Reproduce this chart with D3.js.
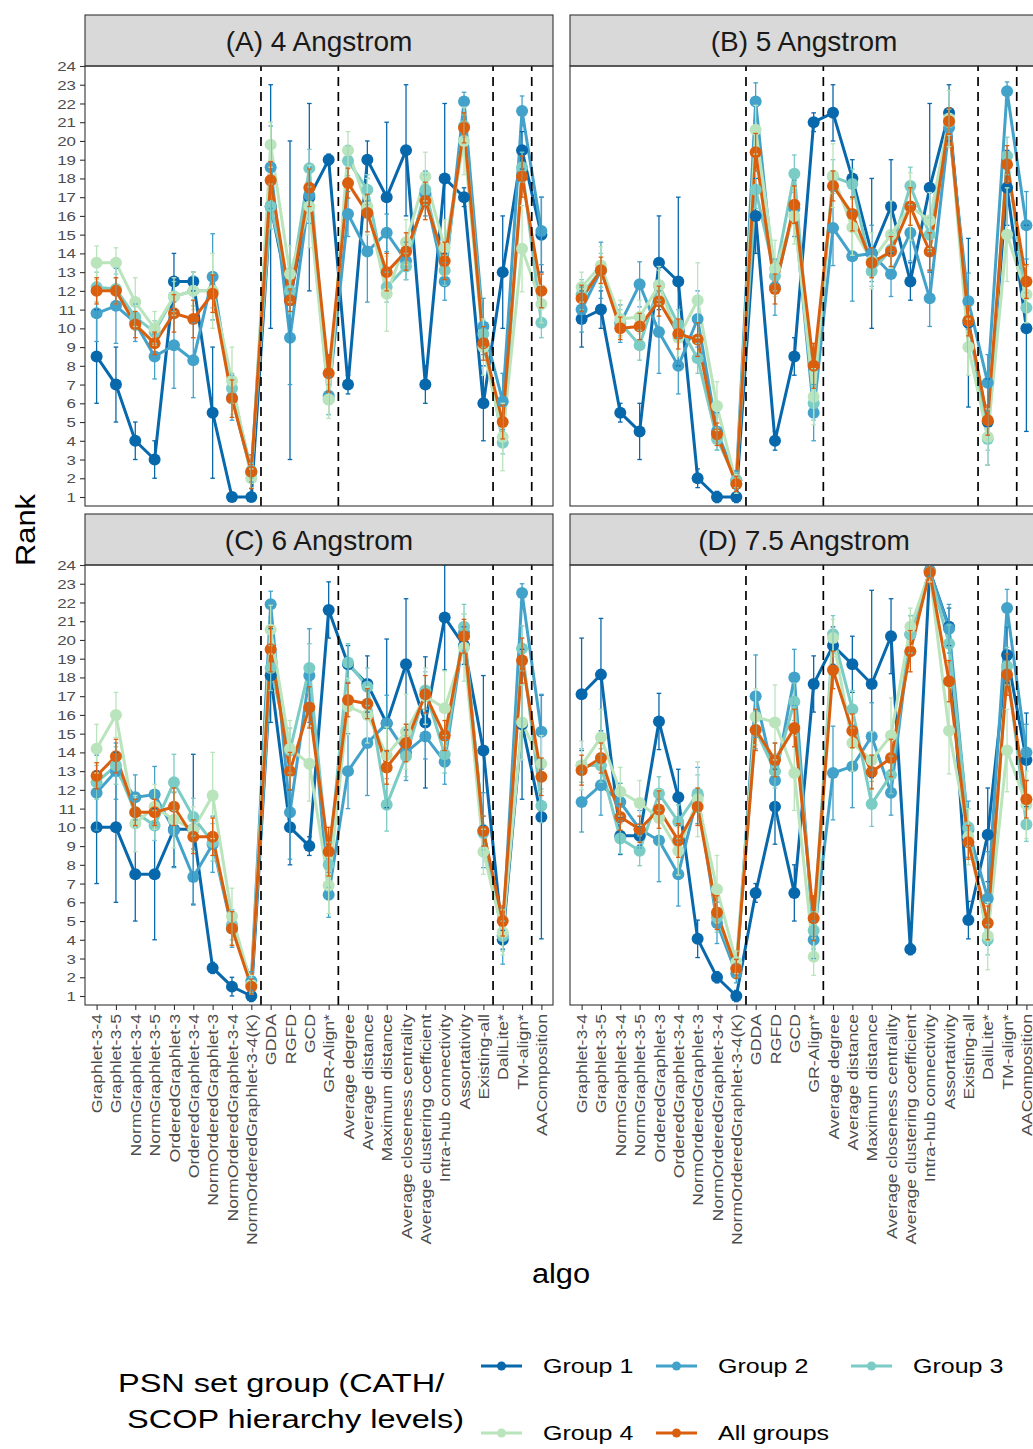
<!DOCTYPE html>
<html>
<head>
<meta charset="utf-8">
<script src="https://cdn.jsdelivr.net/npm/d3@7"></script>
<style>
  body { margin: 0; background: #fff; }
  svg { display: block; font-family: "Liberation Sans", Arial, sans-serif; }
</style>
</head>
<body>
<svg id="chart" width="1033" height="1449"></svg>
<script>
const algos = ["Graphlet-3-4", "Graphlet-3-5", "NormGraphlet-3-4", "NormGraphlet-3-5",
  "OrderedGraphlet-3", "OrderedGraphlet-3-4", "NormOrderedGraphlet-3", "NormOrderedGraphlet-3-4",
  "NormOrderedGraphlet-3-4(K)", "GDDA", "RGFD", "GCD", "GR-Align*", "Average degree",
  "Average distance", "Maximum distance", "Average closeness centrality",
  "Average clustering coefficient", "Intra-hub connectivity", "Assortativity",
  "Existing-all", "DaliLite*", "TM-align*", "AAComposition"];
const groups = ["Group 1", "Group 2", "Group 3", "Group 4", "All groups"];
const groupColors = ["#0868ac", "#43a2ca", "#7bccc4", "#bae4bc", "#d95f0e"];
const panelTitles = ["(A) 4 Angstrom", "(B) 5 Angstrom", "(C) 6 Angstrom", "(D) 7.5 Angstrom"];
const rankTicks = [1, 2, 3, 4, 5, 6, 7, 8, 9, 10, 11, 12, 13, 14, 15, 16, 17, 18, 19, 20, 21, 22, 23, 24];
// dashed separators sit right after these algorithms
const separatorsAfter = ["NormOrderedGraphlet-3-4(K)", "GR-Align*", "Existing-all", "TM-align*"];

// (A) 4 Angstrom
const rankA_g1 = [8.5, 7, 4, 3, 12.5, 12.5, 5.5, 1, 1, 16.5, 11.5, 17, 19, 7, 19, 17, 19.5, 7, 18, 17, 6, 13, 19.5, 15];
const errA_g1  = [2.5, 2, 1, 1, 1.5, 0.5, 3.5, 0, 0, 6.5, 8.5, 5, 0.3, 0.5, 1, 4, 3.5, 1, 4, 0.5, 2, 3, 1, 2];
const rankA_g2 = [10.8, 11.2, 10.3, 8.5, 9.1, 8.3, 12.75, 6.3, 2.3, 18.6, 9.5, 17.1, 6.4, 16.1, 14.1, 15.1, 13.6, 17.2, 12.5, 22.1, 10.1, 6.1, 21.6, 15.2];
const errA_g2  = [1.5, 2, 1, 1.2, 2.3, 2, 2.3, 1.2, 0.5, 2.2, 2.5, 1.5, 1, 1.2, 2.7, 1, 1, 1.2, 1, 0.5, 1.5, 1.5, 0.8, 1.8];
const rankA_g3 = [12.2, 12.1, 10.6, 9.8, 11.7, 12.0, 12.0, 6.8, 2.4, 16.5, 12.0, 18.55, 6.2, 18.95, 17.4, 12.2, 13.3, 17.4, 13.1, 20.8, 9.7, 3.9, 18.6, 10.3];
const errA_g3  = [0.8, 0.8, 0.7, 0.6, 0.8, 0.8, 0.9, 0.8, 0.4, 1.2, 1.2, 1.0, 0.8, 0.8, 0.8, 0.8, 0.7, 0.8, 0.8, 0.6, 0.7, 0.6, 0.8, 0.8];
const rankA_g4 = [13.5, 13.5, 11.4, 10.0, 11.7, 12.0, 12.0, 7.2, 2.0, 19.8, 12.9, 16.5, 6.2, 19.5, 16.5, 11.85, 14.6, 18.1, 14.3, 20.0, 9.0, 4.2, 14.25, 11.3];
const errA_g4  = [0.9, 0.8, 1.3, 0.9, 1.0, 1.0, 2.0, 1.8, 0.5, 1.2, 1.5, 2.2, 1.0, 1.0, 1.5, 2.0, 1.2, 1.3, 1.5, 1.8, 1.5, 1.8, 2.3, 1.0];
const rankA_all = [12.0, 12.0, 10.2, 9.2, 10.8, 10.5, 11.85, 6.25, 2.35, 17.9, 11.5, 17.5, 7.6, 17.75, 16.15, 13.0, 14.1, 16.8, 13.6, 20.7, 9.2, 5.0, 18.1, 12.0];
const errA_all  = [0.7, 0.7, 0.7, 0.6, 1.0, 1.0, 1.0, 1.0, 0.9, 1.0, 0.6, 1.0, 1.0, 0.8, 1.0, 1.0, 1.0, 1.0, 1.0, 0.8, 0.9, 0.9, 1.1, 0.9];

// (B) 5 Angstrom
const rankB_g1 = [10.5, 11.0, 5.5, 4.5, 13.5, 12.5, 2.0, 1.0, 1.0, 16.0, 4.0, 8.5, 21.0, 21.5, 18.0, 14.0, 16.5, 12.5, 17.5, 21.5, 10.3, 5.0, 17.5, 10.0];
const errB_g1  = [1.5, 1.0, 0.5, 1.5, 2.5, 4.5, 0.5, 0.3, 0.3, 2, 0.5, 1, 0.5, 1.5, 1, 4, 2.5, 1, 4.5, 1.5, 4.5, 2.3, 2, 5.5];
const rankB_g2 = [11.0, 13.1, 10.25, 12.35, 9.8, 8.0, 10.5, 4.5, 1.9, 22.1, 12.2, 16.4, 5.5, 15.35, 13.85, 14.0, 12.9, 15.1, 11.6, 20.7, 11.45, 7.1, 22.65, 15.5];
const errB_g2  = [1.2, 1.5, 1.0, 1.2, 2.2, 1.5, 1.5, 1.0, 0.5, 1.0, 1.5, 1.5, 1.5, 2, 2.4, 1.5, 1.2, 1.5, 1.5, 1.0, 1.5, 1.5, 0.5, 1.8];
const rankB_g3 = [11.8, 13.1, 10.3, 9.1, 12.3, 10.2, 8.4, 4.1, 1.9, 17.4, 12.8, 18.25, 6.0, 18.1, 17.7, 13.05, 14.2, 17.6, 15.0, 21.0, 10.4, 4.1, 19.2, 11.1];
const errB_g3  = [0.8, 0.9, 0.7, 0.8, 0.8, 0.8, 0.8, 0.6, 0.4, 1.0, 0.8, 1.0, 0.9, 0.9, 0.8, 0.8, 0.9, 1.0, 0.9, 0.7, 0.8, 0.6, 1.0, 0.8];
const rankB_g4 = [12.2, 13.36, 10.5, 10.6, 12.3, 9.5, 11.5, 5.85, 1.7, 20.6, 13.2, 16.0, 6.35, 18.15, 15.4, 13.6, 15.0, 16.5, 15.75, 21.2, 9.0, 4.2, 15.0, 11.8];
const errB_g4  = [0.8, 1.0, 1.0, 0.9, 1.0, 1.0, 2.0, 1.3, 0.5, 1.3, 1.5, 1.5, 1.5, 1.7, 1.5, 1.5, 1.8, 1.8, 1.5, 1.5, 1.5, 1.5, 2.5, 1.5];
const rankB_all = [11.6, 13.1, 10.0, 10.1, 11.45, 9.7, 9.4, 4.35, 1.7, 19.4, 12.1, 16.6, 8.0, 17.6, 16.1, 13.5, 14.1, 16.5, 14.1, 21.05, 10.4, 5.1, 18.75, 12.5];
const errB_all  = [0.7, 0.7, 0.6, 0.7, 0.8, 0.8, 0.9, 0.6, 0.4, 1.0, 0.8, 1.0, 1.2, 0.8, 0.9, 0.8, 0.8, 1.0, 1.0, 0.7, 0.8, 0.8, 1.0, 0.9];

// (C) 6 Angstrom
const rankC_g1 = [10.0, 10.0, 7.5, 7.5, 9.9, 9.9, 2.5, 1.5, 1.0, 18.1, 10.0, 9.0, 21.6, 18.7, 17.65, 15.55, 18.7, 15.6, 21.2, 19.7, 14.1, 4.0, 15.5, 10.55];
const errC_g1  = [3, 4, 2.5, 3.5, 2, 4, 0.3, 0.5, 0.3, 2.5, 2, 0.5, 1.5, 1, 1.5, 4.5, 3.5, 3.5, 2.8, 1, 4, 0.5, 4, 6.5];
const rankC_g2 = [11.85, 13.0, 11.6, 11.75, 9.85, 7.35, 9.1, 4.6, 1.8, 21.9, 10.8, 18.1, 6.4, 13.0, 14.5, 15.55, 14.0, 14.85, 13.5, 20.4, 9.85, 4.2, 22.5, 15.1];
const errC_g2  = [2, 1.5, 1.2, 1.5, 2, 1.5, 1.5, 1.0, 0.5, 0.7, 2.5, 2.5, 1.2, 2, 2.8, 1.5, 1.5, 1.2, 1.2, 1.0, 2, 1.5, 0.5, 2];
const rankC_g3 = [12.4, 13.3, 10.8, 10.1, 12.4, 10.55, 9.2, 4.8, 1.6, 18.5, 14.1, 18.5, 8.0, 18.8, 17.5, 11.2, 13.8, 17.3, 13.9, 20.7, 9.7, 4.2, 19.55, 11.15];
const errC_g3  = [0.9, 1.0, 0.8, 0.8, 1.5, 1.0, 1.0, 0.8, 0.4, 1.2, 1.2, 1.3, 1.2, 1.0, 1.0, 1.4, 1.1, 1.0, 1.0, 1.2, 0.9, 0.8, 1.2, 0.9];
const rankC_g4 = [14.2, 16.0, 10.2, 11.1, 10.4, 9.9, 11.7, 5.25, 1.6, 20.55, 14.2, 13.4, 6.9, 16.45, 16.0, 13.85, 15.1, 17.0, 16.35, 19.6, 8.7, 4.4, 15.6, 13.4];
const errC_g4  = [1.3, 1.2, 1.5, 1.2, 1.5, 1.2, 2.3, 1.5, 0.5, 1.3, 1.5, 2, 1.5, 1.5, 1.5, 1.5, 2.0, 1.5, 2.0, 1.8, 1.2, 1.2, 2, 1.5];
const rankC_all = [12.75, 13.8, 10.8, 10.8, 11.1, 9.5, 9.5, 4.6, 1.5, 19.5, 13.0, 16.4, 8.7, 16.8, 16.6, 13.2, 14.5, 17.1, 14.9, 20.2, 9.8, 5.0, 18.9, 12.7];
const errC_all  = [0.7, 0.9, 0.7, 0.7, 1.0, 0.9, 1.0, 0.9, 0.4, 1.2, 1.0, 1.1, 1.3, 0.9, 0.8, 0.9, 1.0, 1.0, 0.8, 0.9, 0.8, 0.8, 1.2, 1.0];

// (D) 7.5 Angstrom
const rankD_g1 = [17.1, 18.15, 9.55, 9.55, 15.65, 11.6, 4.05, 2.0, 1.0, 6.5, 11.1, 6.5, 17.65, 19.7, 18.7, 17.65, 20.2, 3.5, 23.7, 20.7, 5.05, 9.6, 19.2, 13.6];
const errD_g1  = [3, 3, 1, 0.5, 1.5, 1.5, 1, 0.3, 0.3, 0.5, 2, 1.5, 1.5, 1, 1.5, 5, 2, 0.3, 0.3, 1, 1, 2.5, 1.5, 2.5];
const rankD_g2 = [11.35, 12.25, 11.35, 9.9, 9.3, 7.5, 11.7, 4.9, 2.2, 17.0, 12.5, 18.0, 4.0, 12.9, 13.25, 14.85, 11.85, 20.3, 23.7, 20.6, 9.9, 6.2, 21.7, 14.0];
const errD_g2  = [1.6, 1.6, 1.0, 1.0, 2.2, 1.7, 1.5, 1.1, 0.5, 2.2, 2.0, 1.5, 1.0, 2.5, 2.2, 1.8, 1.2, 1.0, 0.3, 1.3, 1.5, 2.5, 1.0, 1.5];
const rankD_g3 = [13.3, 13.3, 9.4, 8.75, 11.8, 10.3, 11.8, 5.2, 2.5, 15.2, 13.0, 16.7, 4.5, 20.3, 16.3, 11.25, 12.8, 20.3, 23.6, 19.8, 10.0, 4.0, 18.6, 10.15];
const errD_g3  = [0.9, 0.9, 0.8, 0.8, 0.9, 0.9, 1.0, 0.8, 0.5, 1.0, 0.9, 1.0, 1.0, 1.0, 1.0, 1.2, 1.0, 1.0, 0.3, 1.0, 1.0, 0.8, 1.0, 0.9];
const rankD_g4 = [13.3, 14.8, 11.9, 11.3, 10.5, 8.75, 11.5, 6.7, 2.8, 15.9, 15.6, 12.9, 3.1, 20.1, 14.5, 13.6, 14.9, 20.7, 23.6, 15.15, 9.5, 4.2, 14.1, 11.2];
const errD_g4  = [1.3, 1.5, 1.3, 1.2, 1.5, 1.3, 2.0, 1.8, 0.6, 1.5, 2.0, 2.0, 1.0, 1.0, 1.5, 1.5, 2.0, 1.0, 0.5, 2.3, 1.5, 1.8, 2.2, 1.8];
const rankD_all = [13.05, 13.7, 10.55, 9.9, 10.95, 9.3, 11.1, 5.45, 2.45, 15.2, 13.6, 15.3, 5.15, 18.4, 15.15, 12.95, 13.7, 19.4, 23.6, 17.8, 9.2, 4.9, 18.15, 11.5];
const errD_all  = [0.8, 0.8, 0.7, 0.7, 1.0, 0.9, 1.0, 0.9, 0.5, 1.1, 0.9, 1.0, 1.2, 1.0, 0.9, 0.9, 1.0, 1.1, 0.3, 1.1, 0.9, 0.9, 1.1, 1.0];

const panels = [
  { title: panelTitles[0], ranks: [rankA_g1, rankA_g2, rankA_g3, rankA_g4, rankA_all], errs: [errA_g1, errA_g2, errA_g3, errA_g4, errA_all] },
  { title: panelTitles[1], ranks: [rankB_g1, rankB_g2, rankB_g3, rankB_g4, rankB_all], errs: [errB_g1, errB_g2, errB_g3, errB_g4, errB_all] },
  { title: panelTitles[2], ranks: [rankC_g1, rankC_g2, rankC_g3, rankC_g4, rankC_all], errs: [errC_g1, errC_g2, errC_g3, errC_g4, errC_all] },
  { title: panelTitles[3], ranks: [rankD_g1, rankD_g2, rankD_g3, rankD_g4, rankD_all], errs: [errD_g1, errD_g2, errD_g3, errD_g4, errD_all] }
];

const svg = d3.select("#chart");
const panelW = 468, panelH = 440, stripH = 51;
const colX = [85, 570], rowY = [66, 565];
const textCol = "#4d4d4d";

panels.forEach((p, k) => {
  const left = colX[k % 2], top = rowY[Math.floor(k / 2)];
  const bottom = top + panelH;

  const x = d3.scalePoint().domain(algos).range([left, left + panelW]).padding(0.6);
  const y = d3.scaleLinear().domain([1, 24]).range([top + 431, top]);

  const g = svg.append("g");

  // strip
  g.append("rect")
    .attr("x", left).attr("y", top - stripH)
    .attr("width", panelW).attr("height", stripH)
    .attr("fill", "#d9d9d9").attr("stroke", "#333").attr("stroke-width", 1.1);
  g.append("text")
    .attr("x", left + panelW / 2).attr("y", top - stripH / 2)
    .attr("dy", "0.36em").attr("text-anchor", "middle")
    .attr("font-size", 28).attr("fill", "#1a1a1a")
    .text(p.title);

  const clipId = "clip" + k;
  svg.append("clipPath").attr("id", clipId)
    .append("rect").attr("x", left).attr("y", top).attr("width", panelW).attr("height", panelH);

  const plot = g.append("g").attr("clip-path", `url(#${clipId})`);

  const series = p.ranks.map((r, gi) => ({
    gi: gi,
    pts: r.map((v, i) => ({ algo: algos[i], v: v, e: p.errs[gi][i] }))
  }));

  const line = d3.line().x(d => x(d.algo)).y(d => y(d.v));

  plot.selectAll("path.series")
    .data(series)
    .join("path")
      .attr("class", "series")
      .attr("d", s => line(s.pts))
      .attr("fill", "none")
      .attr("stroke", s => groupColors[s.gi])
      .attr("stroke-width", 3)
      .attr("stroke-linejoin", "round");

  series.forEach(s => {
    plot.append("g")
      .selectAll("circle")
      .data(s.pts)
      .join("circle")
        .attr("cx", d => x(d.algo))
        .attr("cy", d => y(d.v))
        .attr("r", 6)
        .attr("fill", groupColors[s.gi]);
  });

  series.forEach(s => {
    const eb = plot.append("g")
      .attr("stroke", groupColors[s.gi])
      .attr("stroke-width", 1.3)
      .selectAll("g")
      .data(s.pts.filter(d => d.e > 0))
      .join("g");
    eb.append("line")
      .attr("x1", d => x(d.algo)).attr("x2", d => x(d.algo))
      .attr("y1", d => y(d.v - d.e)).attr("y2", d => y(d.v + d.e));
    eb.append("line")
      .attr("x1", d => x(d.algo) - 2.3).attr("x2", d => x(d.algo) + 2.3)
      .attr("y1", d => y(d.v - d.e)).attr("y2", d => y(d.v - d.e));
    eb.append("line")
      .attr("x1", d => x(d.algo) - 2.3).attr("x2", d => x(d.algo) + 2.3)
      .attr("y1", d => y(d.v + d.e)).attr("y2", d => y(d.v + d.e));
  });

  // dashed separators between method families
  plot.selectAll("line.sep")
    .data(separatorsAfter)
    .join("line")
      .attr("class", "sep")
      .attr("x1", a => x(a) + x.step() / 2).attr("x2", a => x(a) + x.step() / 2)
      .attr("y1", bottom).attr("y2", top)
      .attr("stroke", "#000").attr("stroke-width", 1.7)
      .attr("stroke-dasharray", "9,6");

  g.append("rect")
    .attr("x", left).attr("y", top)
    .attr("width", panelW).attr("height", panelH)
    .attr("fill", "none").attr("stroke", "#333").attr("stroke-width", 1.1);

  if (k % 2 === 0) {
    const ya = g.append("g")
      .attr("transform", `translate(${left},0)`)
      .call(d3.axisLeft(y).tickValues(rankTicks).tickFormat(d3.format("d")).tickSize(5));
    ya.select(".domain").remove();
    ya.selectAll(".tick line").attr("stroke", "#333").attr("stroke-width", 1.1);
    ya.selectAll(".tick text")
      .attr("x", null).attr("dy", "0.35em")
      .attr("transform", "translate(-9,0) scale(1.3,1)")
      .attr("font-size", 13).attr("fill", textCol)
      .attr("font-family", "Liberation Sans, Arial, sans-serif");
  }

  if (k >= 2) {
    const xa = g.append("g")
      .attr("transform", `translate(0,${bottom})`)
      .call(d3.axisBottom(x).tickSize(5));
    xa.select(".domain").remove();
    xa.selectAll(".tick line").attr("stroke", "#333").attr("stroke-width", 1.1);
    xa.selectAll(".tick text")
      .attr("x", null).attr("y", null).attr("dy", "0.35em")
      .attr("text-anchor", "end")
      .attr("transform", "translate(0,9) rotate(-90) scale(1.23,1)")
      .attr("font-size", 14.4).attr("fill", textCol)
      .attr("font-family", "Liberation Sans, Arial, sans-serif");
  }
});

// axis titles
svg.append("text")
  .attr("transform", "translate(35,530) rotate(-90) scale(1.1,1)")
  .attr("text-anchor", "middle")
  .attr("font-size", 28).attr("fill", "#000")
  .text("Rank");
svg.append("text")
  .attr("transform", "translate(561,1283) scale(1.1,1)")
  .attr("text-anchor", "middle")
  .attr("font-size", 28).attr("fill", "#000")
  .text("algo");

// legend
const legend = svg.append("g");
legend.append("text")
  .attr("transform", "translate(118,1392) scale(1.3,1)")
  .attr("font-size", 25).attr("fill", "#000")
  .text("PSN set group (CATH/");
legend.append("text")
  .attr("transform", "translate(127,1428) scale(1.3,1)")
  .attr("font-size", 25).attr("fill", "#000")
  .text("SCOP hierarchy levels)");

const keyCols = [481, 656, 851], keyRows = [1366, 1433];
const items = legend.selectAll("g.item")
  .data(groups)
  .join("g")
    .attr("class", "item")
    .attr("transform", (d, i) => `translate(${keyCols[i % 3]},${keyRows[Math.floor(i / 3)]})`);
items.append("line")
  .attr("x1", 0).attr("x2", 41)
  .attr("stroke", (d, i) => groupColors[i]).attr("stroke-width", 3);
items.append("circle")
  .attr("cx", 20.5).attr("r", 4.5)
  .attr("fill", (d, i) => groupColors[i]);
items.append("text")
  .attr("transform", "translate(62,7) scale(1.25,1)")
  .attr("font-size", 20).attr("fill", "#000")
  .text(d => d);
</script>
</body>
</html>
